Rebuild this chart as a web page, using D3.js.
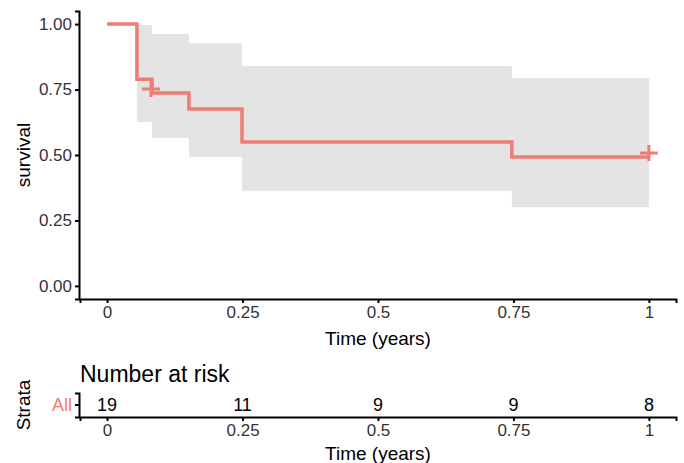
<!DOCTYPE html>
<html>
<head>
<meta charset="utf-8">
<script src="https://cdn.jsdelivr.net/npm/d3@7"></script>
<style>
  body { margin: 0; background: #fff; }
  text { font-family: "Liberation Sans", Arial, sans-serif; }
</style>
</head>
<body>
<script>
var linecolour = "#F07C74";
var bandcolour = "#e4e4e4";
var tickcolour = "#333333";

// survival curve steps (time, survival, lower, upper)
var stepTimes = [0, 0.055, 0.083, 0.151, 0.249, 0.747];
var stepSurv  = [1.0, 0.789, 0.737, 0.676, 0.55, 0.492];
var stepLower = [1.0, 0.626, 0.565, 0.492, 0.363, 0.30];
var stepUpper = [1.0, 0.997, 0.962, 0.927, 0.84, 0.794];
var endTime = 1;

// censor marks
var censorTimes = [0.081, 1.0];
var censorSurv  = [0.752, 0.508];

// risk table
var riskTimes  = [0, 0.25, 0.5, 0.75, 1];
var riskCounts = [19, 11, 9, 9, 8];
var strata = ["All"];

var xTicks = [0, 0.25, 0.5, 0.75, 1];
var xTickLabels = ["0", "0.25", "0.5", "0.75", "1"];
var yTicks = [0, 0.25, 0.5, 0.75, 1];

var W = 684, H = 463;

var svg = d3.select("body").append("svg")
    .attr("width", W)
    .attr("height", H);

// scales
var x = d3.scaleLinear().domain([-0.05, 1.05]).range([80, 676]);
var y = d3.scaleLinear().domain([-0.05, 1.05]).range([299, 11]);

// CI band
var band = stepTimes.map(function(t, i) {
  return {t: t, lo: stepLower[i], hi: stepUpper[i]};
});
band.push({t: endTime, lo: stepLower[stepLower.length - 1], hi: stepUpper[stepUpper.length - 1]});

svg.append("path")
    .datum(band)
    .attr("fill", bandcolour)
    .attr("d", d3.area()
        .curve(d3.curveStepAfter)
        .x(function(d) { return x(d.t); })
        .y0(function(d) { return y(d.lo); })
        .y1(function(d) { return y(d.hi); }));

// survival line
var pts = stepTimes.map(function(t, i) { return {t: t, s: stepSurv[i]}; });
pts.push({t: endTime, s: stepSurv[stepSurv.length - 1]});

svg.append("path")
    .datum(pts)
    .attr("fill", "none")
    .attr("stroke", linecolour)
    .attr("stroke-width", 3.5)
    .attr("d", d3.line()
        .curve(d3.curveStepAfter)
        .x(function(d) { return x(d.t); })
        .y(function(d) { return y(d.s); }));

// censor plus marks
censorTimes.forEach(function(t, i) {
  var cx = x(t), cy = y(censorSurv[i]);
  svg.append("path")
      .attr("d", "M" + (cx - 9) + "," + cy + "H" + (cx + 9) + "M" + cx + "," + (cy - 8) + "V" + (cy + 8))
      .attr("stroke", linecolour)
      .attr("stroke-width", 3);
});

function styleAxis(a) {
  a.select(".domain").attr("stroke", "#000").attr("stroke-width", 2);
  a.selectAll(".tick line").attr("stroke", "#000").attr("stroke-width", 2);
  a.selectAll(".tick text").attr("fill", tickcolour).style("font-size", "17px")
      .style("font-family", "'Liberation Sans', Arial, sans-serif");
}

// axes
var xAxis = svg.append("g")
    .attr("transform", "translate(0,299)")
    .call(d3.axisBottom(x).tickValues(xTicks).tickFormat(function(d, i) { return xTickLabels[i]; })
        .tickSizeOuter(0).tickSize(4).tickPadding(3));

var yAxis = svg.append("g")
    .attr("transform", "translate(79,0)")
    .call(d3.axisLeft(y).tickValues(yTicks).tickFormat(d3.format(".2f"))
        .tickSizeOuter(0).tickSize(4).tickPadding(3));

styleAxis(xAxis);
styleAxis(yAxis);

svg.append("text")
    .attr("x", 378).attr("y", 345)
    .attr("text-anchor", "middle")
    .style("font-size", "19px")
    .text("Time (years)");

svg.append("text")
    .attr("transform", "translate(30,155) rotate(-90)")
    .attr("text-anchor", "middle")
    .style("font-size", "19px")
    .text("survival");

// risk table
var ry = d3.scaleBand().domain(strata).range([393, 417]);

svg.append("text")
    .attr("x", 80).attr("y", 382)
    .style("font-size", "23px")
    .text("Number at risk");

svg.append("g")
    .selectAll("text")
    .data(riskCounts)
    .enter().append("text")
    .attr("x", function(d, i) { return x(riskTimes[i]); })
    .attr("y", ry(strata[0]) + ry.bandwidth() / 2)
    .attr("dy", "0.35em")
    .attr("text-anchor", "middle")
    .style("font-size", "18px")
    .text(function(d) { return d; });

var rxAxis = svg.append("g")
    .attr("transform", "translate(0,417)")
    .call(d3.axisBottom(x).tickValues(xTicks).tickFormat(function(d, i) { return xTickLabels[i]; })
        .tickSizeOuter(0).tickSize(4).tickPadding(3));

var ryAxis = svg.append("g")
    .attr("transform", "translate(79,0)")
    .call(d3.axisLeft(ry).tickSizeOuter(0).tickSize(4).tickPadding(3));

styleAxis(rxAxis);
styleAxis(ryAxis);
ryAxis.selectAll(".tick text").attr("fill", linecolour).style("font-size", "18px");

svg.append("text")
    .attr("x", 378).attr("y", 460)
    .attr("text-anchor", "middle")
    .style("font-size", "19px")
    .text("Time (years)");

svg.append("text")
    .attr("transform", "translate(30,405) rotate(-90)")
    .attr("text-anchor", "middle")
    .style("font-size", "19px")
    .text("Strata");
</script>
</body>
</html>
